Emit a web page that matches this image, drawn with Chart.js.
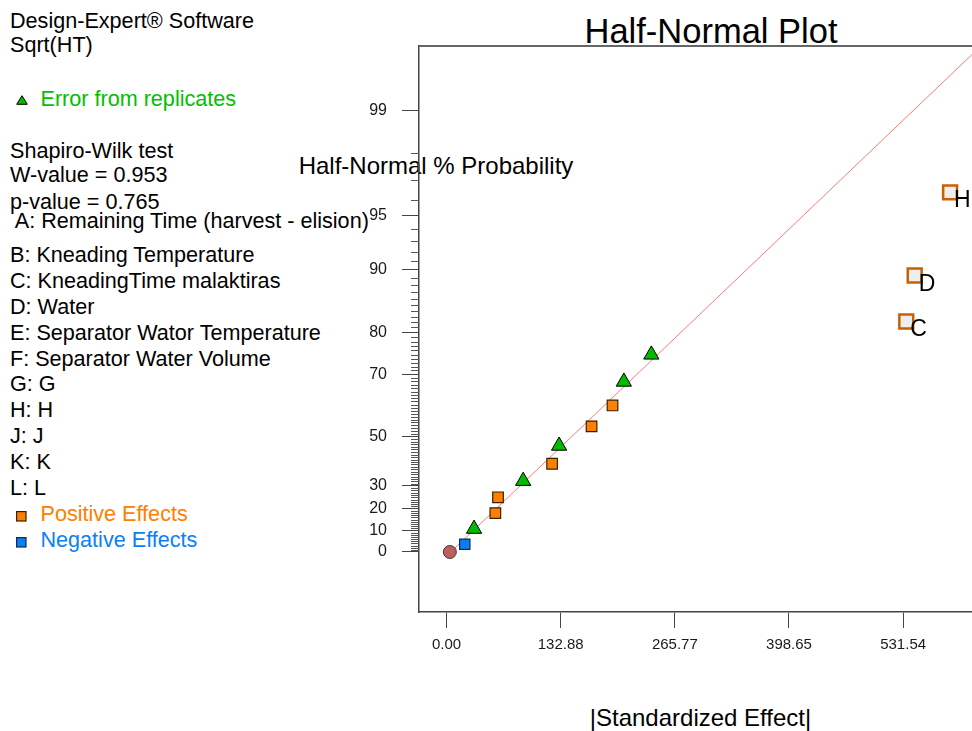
<!DOCTYPE html>
<html><head><meta charset="utf-8">
<script src="https://cdn.jsdelivr.net/npm/chart.js@4.4.1/dist/chart.umd.min.js"></script>
<style>
html,body{margin:0;padding:0;background:#fff;overflow:hidden;width:972px;height:731px}
#wrap{position:absolute;left:0;top:0;width:1000px;height:731px;z-index:1}
.t{position:absolute;white-space:pre;font-family:Arial,"Liberation Sans",sans-serif;z-index:0}
.m{position:absolute;z-index:2}
</style></head><body>
<div id="wrap"><canvas id="c"></canvas></div>
<script>
// ---------- data ----------
const errorEffect    = [32.0, 89.2, 131.0, 206.4, 238.4];
const errorProb      = [10.7, 32.1, 46.4, 67.9, 75.0];
const positiveEffect = [56.8, 59.9, 122.9, 168.8, 193.2];
const positiveProb   = [17.9, 25.0, 39.3, 53.6, 60.7];
const negativeEffect = [21.2];
const negativeProb   = [3.6];
const originEffect   = [3.8];
const originProb     = [0];
const namedTerms     = ['C', 'D', 'H'];
const namedEffect    = [535.2, 545.0, 586.2];
const namedProb      = [82.1, 89.3, 96.4];
const fitEffect      = [5, 640];
const fitProb        = [0, 99.76];
const yTickProb      = [0, 10, 20, 30, 50, 70, 80, 90, 95, 99];
const yTickLabels    = ['0', '10', '20', '30', '50', '70', '80', '90', '95', '99'];
const xTickValues    = [0, 132.88, 265.77, 398.65, 531.54];
const xTickLabels    = ['0.00', '132.88', '265.77', '398.65', '531.54'];
const termLegend = ['A: Remaining Time (harvest - elision)', 'B: Kneading Temperature', 'C: KneadingTime malaktiras',
  'D: Water', 'E: Separator Wator Temperature', 'F: Separator Water Volume', 'G: G', 'H: H', 'J: J', 'K: K', 'L: L'];

// ---------- half-normal probability transform ----------
function invNorm(p){
  const a=[-3.969683028665376e+01,2.209460984245205e+02,-2.759285104469687e+02,1.383577518672690e+02,-3.066479806614716e+01,2.506628277459239e+00];
  const b=[-5.447609879822406e+01,1.615858368580409e+02,-1.556989798598866e+02,6.680131188771972e+01,-1.328068155288572e+01];
  const c=[-7.784894002430293e-03,-3.223964580411365e-01,-2.400758277161838e+00,-2.549732539343734e+00,4.374664141464968e+00,2.938163982698783e+00];
  const d=[7.784695709041462e-03,3.224671290700398e-01,2.445134137142996e+00,3.754408661907416e+00];
  const pl=0.02425, ph=1-pl; let q,r;
  if(p<pl){q=Math.sqrt(-2*Math.log(p));return (((((c[0]*q+c[1])*q+c[2])*q+c[3])*q+c[4])*q+c[5])/((((d[0]*q+d[1])*q+d[2])*q+d[3])*q+1);}
  if(p<=ph){q=p-0.5;r=q*q;return (((((a[0]*r+a[1])*r+a[2])*r+a[3])*r+a[4])*r+a[5])*q/(((((b[0]*r+b[1])*r+b[2])*r+b[3])*r+b[4])*r+1);}
  q=Math.sqrt(-2*Math.log(1-p));return -(((((c[0]*q+c[1])*q+c[2])*q+c[3])*q+c[4])*q+c[5])/((((d[0]*q+d[1])*q+d[2])*q+d[3])*q+1);
}
const hn = pct => invNorm(0.5 + pct/200);
const pts = (xs, ps) => xs.map((x,i)=>({x:x, y:hn(ps[i])}));

// minor tick percents
const minorProb = [];
for(let p=1;p<=98;p++){ if(!yTickProb.includes(p)) minorProb.push(p); }

// ---------- plugins ----------
const framePlugin = {
  id:'frame',
  afterDraw(chart){
    const {ctx, chartArea:a} = chart;
    const ys = chart.scales.y;
    ctx.save();
    ctx.strokeStyle='#555'; ctx.lineWidth=1;
    minorProb.forEach(p=>{
      const y = Math.round(ys.getPixelForValue(hn(p)))+0.5;
      ctx.beginPath(); ctx.moveTo(a.left-8,y); ctx.lineTo(a.left,y); ctx.stroke();
    });
    ctx.strokeStyle='#666'; ctx.lineWidth=2;
    ctx.beginPath(); ctx.moveTo(a.left, a.top); ctx.lineTo(chart.width, a.top); ctx.stroke();
    ctx.restore();
  }
};
const labelPlugin = {
  id:'termLabels',
  afterDatasetsDraw(chart){
    const {ctx} = chart;
    const xs = chart.scales.x, ys = chart.scales.y;
    ctx.save();
    ctx.fillStyle='#000'; ctx.font='23px Arial, "Liberation Sans", sans-serif';
    ctx.textBaseline='alphabetic'; ctx.textAlign='left';
    namedTerms.forEach((t,i)=>{
      const px = xs.getPixelForValue(namedEffect[i]);
      const py = ys.getPixelForValue(hn(namedProb[i]));
      ctx.fillText(t, px+4, py+15);
    });
    ctx.restore();
  }
};

const FONT = 'Arial, "Liberation Sans", sans-serif';
new Chart(document.getElementById('c'), {
  type:'scatter',
  data:{datasets:[
    {type:'line', label:'fit', data:pts(fitEffect, fitProb), borderColor:'#ff7a7a', borderWidth:1, pointRadius:0, order:10},
    {label:'origin', data:pts(originEffect, originProb), pointStyle:'circle', pointRadius:6.5, backgroundColor:'#bd5f5f', borderColor:'#3a3a3a', borderWidth:1, order:5},
    {label:'Negative Effects', data:pts(negativeEffect, negativeProb), pointStyle:'rect', pointRadius:7.3, backgroundColor:'#0a7ff0', borderColor:'#0a2a60', borderWidth:1.2, order:4},
    {label:'Error from replicates', data:pts(errorEffect, errorProb), pointStyle:'triangle', pointRadius:8.8, backgroundColor:'#00bb00', borderColor:'#000', borderWidth:1, order:3},
    {label:'Positive Effects', data:pts(positiveEffect, positiveProb), pointStyle:'rect', pointRadius:7.5, backgroundColor:'#ff8000', borderColor:'#3a2000', borderWidth:1.2, order:2},
    {label:'Named', data:pts(namedEffect, namedProb), pointStyle:'rect', pointRadius:9.8, backgroundColor:'#eeeeee', borderColor:'#c86000', borderWidth:2.5, order:1}
  ]},
  options:{
    responsive:true, maintainAspectRatio:false, animation:false,
    layout:{padding:{top:46,right:10,left:0,bottom:0}},
    plugins:{legend:{display:false}, tooltip:{enabled:false}},
    scales:{
      x:{type:'linear', min:-32.1, max:630,
         afterBuildTicks:s=>{s.ticks = xTickValues.map(v=>({value:v}));},
         afterFit:s=>{s.height=119;},
         ticks:{callback:(v,i)=>xTickLabels[i], font:{size:15,family:FONT}, color:'#1a1a1a', padding:8, maxRotation:0, autoSkip:false},
         grid:{drawOnChartArea:false, drawTicks:true, tickLength:16, color:'#444', lineWidth:1},
         border:{display:true, color:'#444', width:1.5}},
      y:{type:'linear', min:-0.35, max:2.95,
         afterBuildTicks:s=>{s.ticks = yTickProb.map(p=>({value:hn(p)}));},
         afterFit:s=>{s.width=419;},
         ticks:{callback:(v,i)=>yTickLabels[i], font:{size:16,family:FONT}, color:'#1a1a1a', padding:15, autoSkip:false},
         grid:{drawOnChartArea:false, drawTicks:true, tickLength:17, color:'#444', lineWidth:1},
         border:{display:true, color:'#444', width:1.5}}
    }
  },
  plugins:[framePlugin, labelPlugin]
});

// ---------- text annotations ----------
function addText(str, x, base, size, color, align){
  const d=document.createElement('div'); d.className='t'; d.textContent=str;
  d.style.fontSize=size+'px'; d.style.lineHeight=size+'px'; d.style.color=color;
  d.style.top=(base-0.8465*size)+'px'; d.style.left=x+'px';
  if(align==='center') d.style.transform='translateX(-50%)';
  document.body.appendChild(d);
}
const LS = 21.6;
addText('Design-Expert® Software', 10, 28, LS, '#000');
addText('Sqrt(HT)', 10, 52.5, LS, '#000');
addText('Error from replicates', 40.5, 106, LS, '#00c000');
addText('Shapiro-Wilk test', 10, 158, LS, '#000');
addText('W-value = 0.953', 10, 182.5, LS, '#000');
addText('p-value = 0.765', 10, 209, LS, '#000');
addText(' ' + termLegend[0], 10, 228.5, LS, '#000');
termLegend.slice(1).forEach((s,i)=>addText(s, 10, 262.2 + i*25.9, LS, '#000'));
addText('Positive Effects', 40.5, 521, LS, '#ff8000');
addText('Negative Effects', 40.5, 547, LS, '#0a80ff');
addText('Half-Normal Plot', 711, 43, 34.5, '#000', 'center');
addText('Half-Normal % Probability', 436, 174.5, 24, '#000', 'center');
addText('|Standardized Effect|', 700.5, 726, 24, '#000', 'center');

// legend markers
function svgMarker(x, y, w, h, inner){
  const d=document.createElement('div'); d.className='m';
  d.style.left=x+'px'; d.style.top=y+'px';
  d.innerHTML='<svg width="'+w+'" height="'+h+'" xmlns="http://www.w3.org/2000/svg">'+inner+'</svg>';
  document.body.appendChild(d);
}
svgMarker(15.5, 91, 12, 10, '<polygon points="6,0.7 11.3,9.3 0.7,9.3" fill="#00bb00" stroke="#000" stroke-width="1"/>');
svgMarker(16, 508, 11, 11, '<rect x="0.6" y="0.6" width="9.4" height="9.4" fill="#ff8000" stroke="#3a2000" stroke-width="1.2"/>');
svgMarker(16, 534, 11, 11, '<rect x="0.6" y="0.6" width="9.4" height="9.4" fill="#0a7ff0" stroke="#0a2a60" stroke-width="1.2"/>');
</script>
</body></html>
